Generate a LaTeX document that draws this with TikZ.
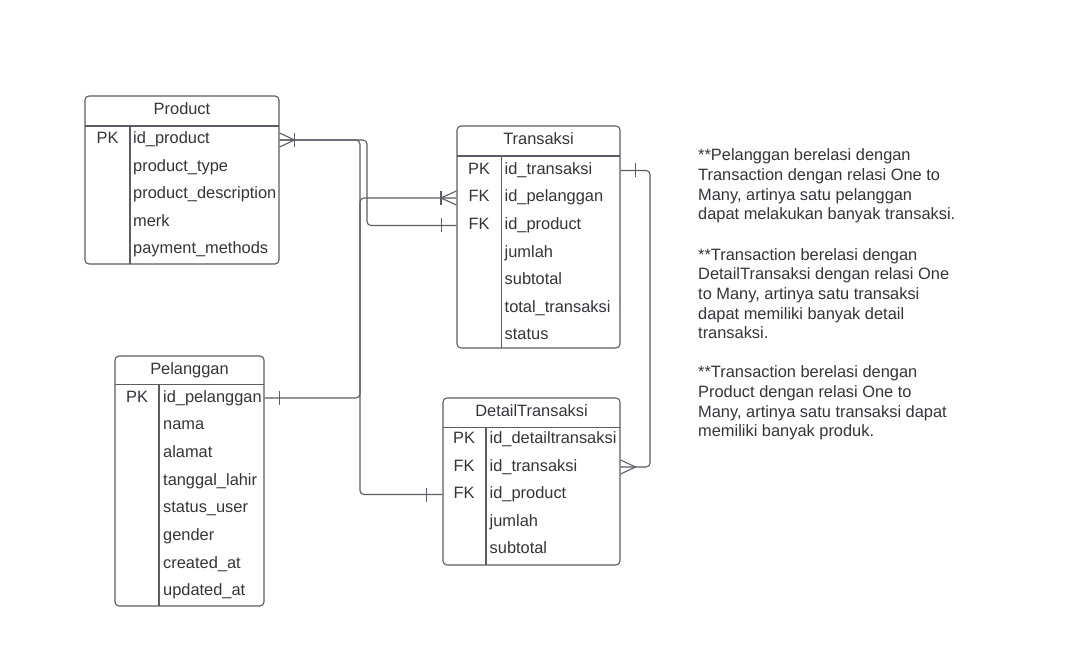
\documentclass[tikz,border=0pt]{standalone}
\usepackage{fontspec}
\setmainfont{Liberation Sans}
\definecolor{lc}{RGB}{92,92,102}
\definecolor{tc}{RGB}{52,52,58}
\newcommand{\dfont}{\fontsize{16.4}{19.6}\selectfont}
\begin{document}
\begin{tikzpicture}[x=1pt,y=-1pt,
  tbl/.style={draw=lc, line width=1.1pt, rounded corners=4pt, inner sep=0pt},
  sep/.style={draw=lc, line width=1.1pt},
  con/.style={draw=lc, line width=1.1pt, rounded corners=4pt},
  mk/.style={draw=lc, line width=1.1pt},
  row/.style={anchor=west, inner sep=0pt, text height=11.5pt, text depth=3.5pt, font=\dfont, text=tc},
  key/.style={row, anchor=center},
  ttl/.style={row, anchor=center},
  note/.style={anchor=north west, inner sep=0pt, align=left, font=\dfont, text=tc}]
\useasboundingbox (0,0) rectangle (1068,655);
\fill[white] (0,0) rectangle (1068,655);

% ---------- Product ----------
\node[tbl, minimum width=194pt, minimum height=168pt] (prod) at (182,180) {};
\draw[sep] (85,126) -- (279,126);
\draw[sep] (130,126) -- (130,264);
\node[ttl] (prodt) at (182,111) {Product};
\node[key] (prodk) at (107.5,140) {PK};
\node[row] (p1) at (133,140) {id\_product};
\node[row] (p2) at (133,167.5) {product\_type};
\node[row] (p3) at (133,195) {product\_description};
\node[row] (p4) at (133,222.5) {merk};
\node[row] (p5) at (133,250) {payment\_methods};

% ---------- Transaksi ----------
\node[tbl, minimum width=163pt, minimum height=222pt] (tran) at (538.5,237) {};
\draw[sep] (457,156) -- (620,156);
\draw[sep] (501.5,156) -- (501.5,348);
\node[ttl] (trant) at (538.5,141) {Transaksi};
\node[key] (trk1) at (479,170.5) {PK};
\node[key] (trk2) at (479,198) {FK};
\node[key] (trk3) at (479,225.5) {FK};
\node[row] (t1) at (504.5,170.5) {id\_transaksi};
\node[row] (t2) at (504.5,198) {id\_pelanggan};
\node[row] (t3) at (504.5,225.5) {id\_product};
\node[row] (t4) at (504.5,253) {jumlah};
\node[row] (t5) at (504.5,280.5) {subtotal};
\node[row] (t6) at (504.5,308) {total\_transaksi};
\node[row] (t7) at (504.5,335.5) {status};

% ---------- Pelanggan ----------
\node[tbl, minimum width=149pt, minimum height=250pt] (pel) at (189.5,481) {};
\draw[sep] (115,384.5) -- (264,384.5);
\draw[sep] (159,384.5) -- (159,606);
\node[ttl] (pelt) at (189.5,370) {Pelanggan};
\node[key] (pelk) at (137,398) {PK};
\node[row] (c1) at (163,398) {id\_pelanggan};
\node[row] (c2) at (163,425.7) {nama};
\node[row] (c3) at (163,453.4) {alamat};
\node[row] (c4) at (163,481.1) {tanggal\_lahir};
\node[row] (c5) at (163,508.8) {status\_user};
\node[row] (c6) at (163,536.5) {gender};
\node[row] (c7) at (163,564.2) {created\_at};
\node[row] (c8) at (163,591.9) {updated\_at};

% ---------- DetailTransaksi ----------
\node[tbl, minimum width=177pt, minimum height=167pt] (det) at (531.5,481.5) {};
\draw[sep] (443,427.5) -- (620,427.5);
\draw[sep] (486,427.5) -- (486,565);
\node[ttl] (dett) at (531.5,412) {DetailTransaksi};
\node[key] (dk1) at (464,439.5) {PK};
\node[key] (dk2) at (464,467) {FK};
\node[key] (dk3) at (464,494.5) {FK};
\node[row] (d1) at (489.5,439.5) {id\_detailtransaksi};
\node[row] (d2) at (489.5,467) {id\_transaksi};
\node[row] (d3) at (489.5,494.5) {id\_product};
\node[row] (d4) at (489.5,522) {jumlah};
\node[row] (d5) at (489.5,549.5) {subtotal};

% ---------- routing points ----------
\coordinate (ra) at (367,0);
\coordinate (rb) at (360,0);
\coordinate (rc) at (650,0);

% ---------- connectors ----------
% Product -> Transaksi.id_product
\draw[con] (prod.east |- p1) -- (ra |- p1) -- (ra |- t3) -- (tran.west |- t3);
% Product -> DetailTransaksi.id_product
\draw[con] (prod.east |- p1) -- (rb |- p1) -- (rb |- d3) -- (det.west |- d3);
% Pelanggan -> Transaksi.id_pelanggan
\draw[con] (pel.east |- c1) -- (rb |- c1) -- (rb |- t2) -- (tran.west |- t2);
% Transaksi -> DetailTransaksi.id_transaksi
\draw[con] (tran.east |- t1) -- (rc |- t1) -- (rc |- d2) -- (det.east |- d2);

% ---------- end markers ----------
% Product end: one-or-many
\draw[mk] ([yshift=-7pt]prod.east |- p1) -- ([xshift=15pt]prod.east |- p1) -- ([yshift=7pt]prod.east |- p1);
\draw[mk] ([xshift=15pt,yshift=-7pt]prod.east |- p1) -- ([xshift=15pt,yshift=7pt]prod.east |- p1);
% Transaksi.id_pelanggan end: one-or-many
\draw[mk] ([yshift=-7pt]tran.west |- t2) -- ([xshift=-15.5pt]tran.west |- t2) -- ([yshift=7pt]tran.west |- t2);
\draw[mk] ([xshift=-15.5pt,yshift=-7pt]tran.west |- t2) -- ([xshift=-15.5pt,yshift=7pt]tran.west |- t2);
% Transaksi.id_product end: one
\draw[mk] ([xshift=-15pt,yshift=-7pt]tran.west |- t3) -- ([xshift=-15pt,yshift=7pt]tran.west |- t3);
% Pelanggan end: one
\draw[mk] ([xshift=15pt,yshift=-7pt]pel.east |- c1) -- ([xshift=15pt,yshift=7pt]pel.east |- c1);
% DetailTransaksi.id_product end: one
\draw[mk] ([xshift=-16pt,yshift=-7pt]det.west |- d3) -- ([xshift=-16pt,yshift=7pt]det.west |- d3);
% Transaksi.id_transaksi end: one
\draw[mk] ([xshift=15pt,yshift=-7pt]tran.east |- t1) -- ([xshift=15pt,yshift=7pt]tran.east |- t1);
% DetailTransaksi.id_transaksi end: many
\draw[mk] ([yshift=-7pt]det.east |- d2) -- ([xshift=15pt]det.east |- d2) -- ([yshift=7pt]det.east |- d2);

% ---------- notes ----------
\node[note] (n1) at (698,148.8) {**Pelanggan berelasi dengan\\Transaction dengan relasi One to\\Many, artinya satu pelanggan\\dapat melakukan banyak transaksi.};
\node[note] (n2) at (698,248.3) {**Transaction berelasi dengan\\DetailTransaksi dengan relasi One\\to Many, artinya satu transaksi\\dapat memiliki banyak detail\\transaksi.};
\node[note] (n3) at (698,365.9) {**Transaction berelasi dengan\\Product dengan relasi One to\\Many, artinya satu transaksi dapat\\memiliki banyak produk.};
\end{tikzpicture}
\end{document}
